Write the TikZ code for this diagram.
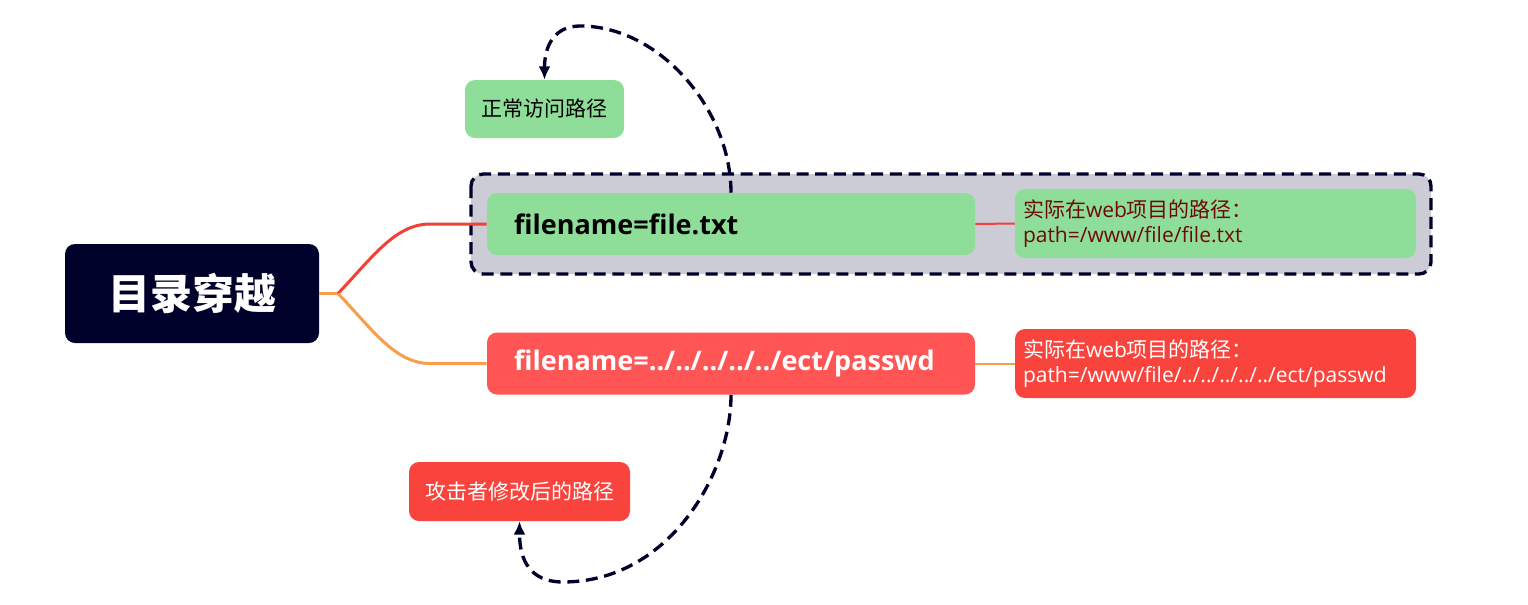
\documentclass[tikz,border=0pt]{standalone}
\usepackage{fontspec}
\setmainfont{Open Sans}[Ligatures=NoCommon]
\newfontfamily\cjk{Noto Sans CJK SC}
\usetikzlibrary{arrows.meta}
\definecolor{navy}{HTML}{00012B}
\definecolor{leaf}{HTML}{8EDE99}
\definecolor{frame}{HTML}{CBCCD6}
\definecolor{pink}{HTML}{FF5555}
\definecolor{tomato}{HTML}{F9443D}
\definecolor{branch}{HTML}{F79D4B}
\definecolor{redline}{HTML}{EF4136}
\definecolor{maroon}{HTML}{6E0A0A}

\begin{document}
\begin{tikzpicture}[x=0.75pt,y=0.75pt,yscale=-1,xscale=1,
  card/.style={rounded corners=7.5pt, inner ysep=0pt},
  path/.style={card, minimum height=46.5pt, inner xsep=20.25pt, text width=325.5pt, align=left, font=\bfseries\fontsize{20.25}{24}\selectfont},
  note/.style={card, minimum height=51.75pt, inner xsep=6pt, text width=288.75pt, align=left, font=\fontsize{15.75}{18.5}\selectfont},
  tag/.style={card, minimum height=43.5pt, align=center, font=\cjk\fontsize{15.75}{18}\selectfont},
  flow/.style={navy, line width=2.5pt, dash pattern=on 9pt off 5pt, -{Latex[length=10pt,width=9pt]}}]
\path (0,0) rectangle (1528,604);
%Summary frame
\draw [navy, fill=frame, line width=2.5pt, dash pattern=on 9pt off 5pt, rounded corners=9pt] (471,174) rectangle (1431,274) ;

% Root node
\node [card, fill=navy, text=white, minimum width=190.5pt, minimum height=74.25pt, font=\cjk\bfseries\fontsize{31.5}{36}\selectfont] (root) at (192,293.5) {目录穿越};
% Path nodes
\node [path, fill=leaf, text=black] (ok) at (731,224) {filename=file.txt};
\node [path, fill=pink, text=white] (bad) at (731,363.5) {filename=../../../../../ect/passwd};
% Note nodes
\node [note, fill=leaf, text=maroon] (oknote) at (1215.5,223.5) {{\cjk 实际在}web{\cjk 项目的路径：}\\path=/www/file/file.txt};
\node [note, fill=tomato, text=white] (badnote) at (1215.5,363.5) {{\cjk 实际在}web{\cjk 项目的路径：}\\path=/www/file/../../../../../ect/passwd};
% Tag nodes
\node [tag, fill=leaf, text=black, minimum width=119.25pt] (normal) at (544.5,109) {正常访问路径};
\node [tag, fill=tomato, text=white, minimum width=165.75pt, minimum height=44.25pt] (attack) at (519.5,491.5) {攻击者修改后的路径};

%Branches
\coordinate (fork) at (338,293.5);
\draw [branch, line width=2.25pt] (root.east) -- (fork) ;
\draw [redline, line width=2.25pt] (fork) .. controls (372,258) and (395,224) .. (430,224) -- (ok.west) ;
\draw [branch, line width=2.25pt] (fork) .. controls (372,329) and (395,363.5) .. (430,363.5) -- (bad.west) ;
\draw [redline, line width=1.5pt] (ok.east) -- (oknote.west) ;
\draw [branch, line width=1.5pt] (bad.east) -- (badnote.west) ;

%Dashed arrows
\draw [flow] (ok.north) .. controls (731,110) and (660,26) .. (580,26) .. controls (555,26) and (544.5,45) .. (normal.north) ;
\draw [flow] (bad.south) .. controls (731,475) and (668,582) .. (563,582) .. controls (530,582) and (519.5,560) .. (attack.south) ;

\end{tikzpicture}
\end{document}
